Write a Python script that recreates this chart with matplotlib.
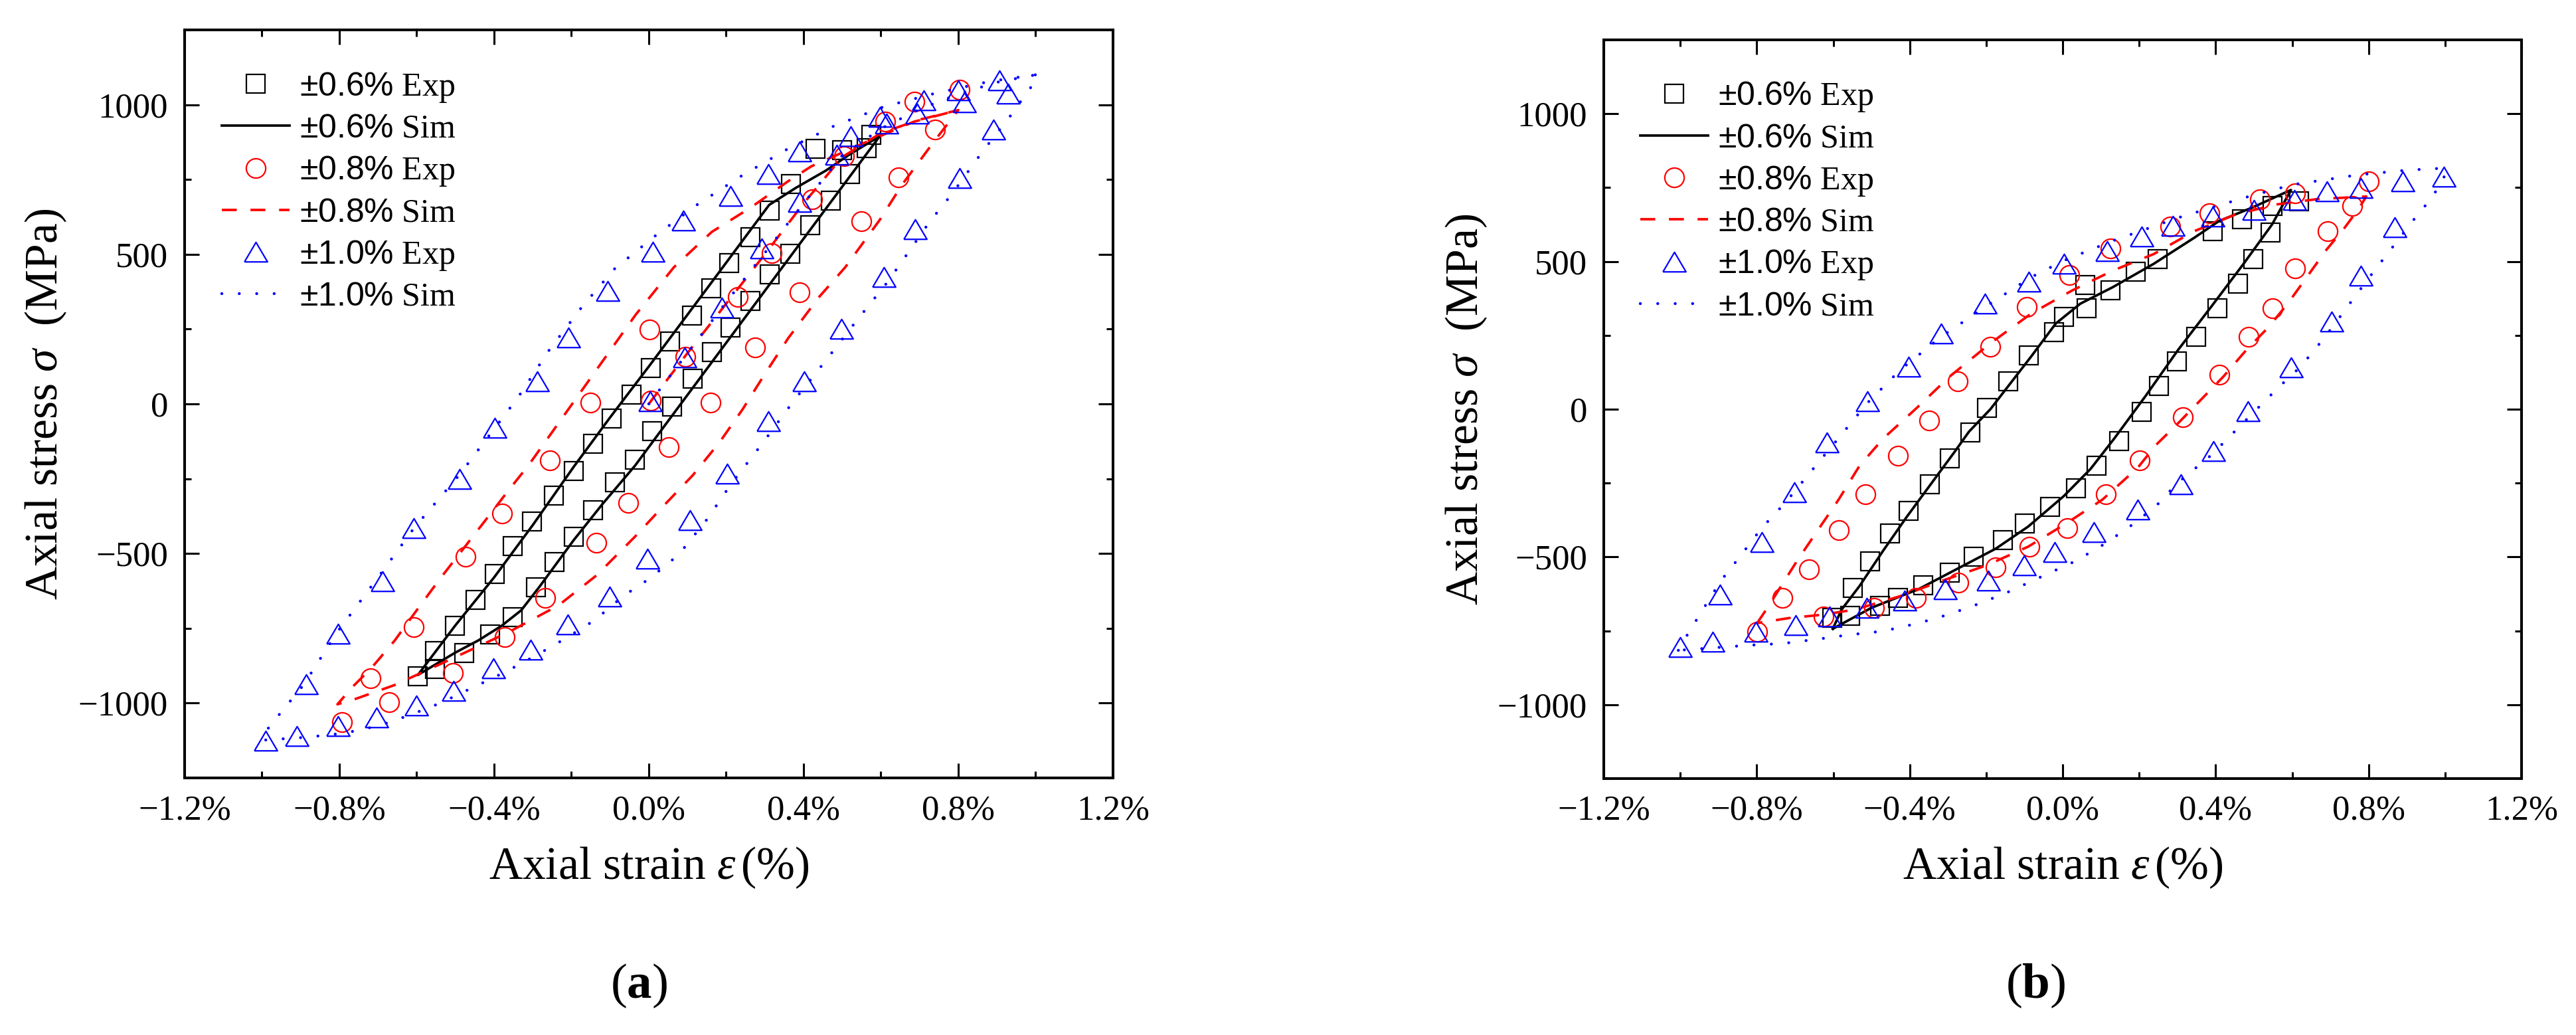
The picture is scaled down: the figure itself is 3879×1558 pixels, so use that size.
"""
Hysteresis loops: experiment vs simulation, strain amplitudes ±0.6 / ±0.8 / ±1.0 %
Two panels: (a) and (b)
"""

import matplotlib
matplotlib.use('Agg')
import matplotlib.pyplot as plt
from matplotlib.ticker import MultipleLocator

plt.rcParams['font.family'] = ['Liberation Serif', 'DejaVu Serif']
plt.rcParams['mathtext.fontset'] = 'custom'
plt.rcParams['mathtext.rm'] = 'Liberation Serif'
plt.rcParams['mathtext.it'] = 'Liberation Serif:italic'
plt.rcParams['mathtext.bf'] = 'Liberation Serif:bold'
plt.rcParams['mathtext.sf'] = 'Liberation Sans'
plt.rcParams['axes.unicode_minus'] = True

# ---------------- 数据 (a) ----------------
# ±0.6%
A06_EXP_X = [-0.597, -0.553, -0.502, -0.448, -0.398, -0.352, -0.302, -0.246, -0.194, -0.145, -0.096, -0.045,
             0.005, 0.055, 0.112, 0.161, 0.208, 0.262, 0.312, 0.368, 0.431, 0.500, 0.575,
             0.563, 0.520, 0.470, 0.417, 0.366, 0.312, 0.262, 0.211, 0.163, 0.114, 0.060, 0.009, -0.036,
             -0.088, -0.144, -0.194, -0.243, -0.292, -0.352, -0.410, -0.477, -0.553]
A06_EXP_Y = [-911, -827, -742, -655, -569, -476, -392, -306, -225, -134, -48, 31,
             120, 209, 296, 387, 471, 558, 645, 735, 852, 848, 900,
             854, 769, 680, 598, 502, 432, 344, 256, 174, 85, -9, -91, -186,
             -262, -355, -445, -529, -613, -713, -771, -833, -886]
A06_SIM_X = [0.597, 0.550, 0.450, 0.350, 0.250, 0.150, 0.050, -0.036, -0.120, -0.194, -0.282, -0.330, -0.381,
             -0.440, -0.500, -0.597,
             -0.500, -0.400, -0.300, -0.194, -0.100, 0.000, 0.150, 0.311, 0.380, 0.458, 0.518, 0.597]
A06_SIM_Y = [895, 813, 639, 465, 291, 117, -57, -207, -335, -455, -610, -690, -742,
             -790, -831, -906,
             -740, -580, -405, -210, -45, 125, 385, 665, 722, 780, 833, 895]

# ±0.8%
A08_EXP_X = [0.005, 0.094, 0.230, 0.318, 0.423, 0.504, 0.611, 0.686, 0.804,
             0.740, 0.645, 0.549, 0.390, 0.274, 0.159, 0.052, -0.053, -0.136, -0.267, -0.373, -0.507, -0.672,
             -0.793, -0.719, -0.608, -0.473, -0.380, -0.256, -0.151, 0.001]
A08_EXP_Y = [12, 157, 357, 505, 684, 828, 943, 1010, 1051,
             917, 756, 610, 372, 189, 5, -144, -330, -463, -648, -780, -899, -996,
             -1064, -916, -747, -511, -366, -189, 4, 249]
A08_SIM_X = [0.0, 0.100, 0.200, 0.300, 0.400, 0.500, 0.600, 0.700, 0.800,
             0.735, 0.656, 0.597, 0.508, 0.440, 0.360, 0.300, 0.242, 0.183, 0.114, 0.035, -0.036, -0.135,
             -0.233, -0.361, -0.460, -0.558, -0.658, -0.756, -0.805,
             -0.766, -0.716, -0.657, -0.607, -0.539, -0.480, -0.420, -0.361, -0.312, -0.220, -0.132, -0.034,
             0.065, 0.163, 0.262, 0.360, 0.420, 0.558, 0.685, 0.800]
A08_SIM_Y = [0, 170, 335, 500, 670, 825, 905, 950, 982,
             873, 735, 615, 457, 357, 219, 100, -19, -128, -238, -345, -444, -573,
             -673, -762, -822, -881, -940, -985, -1004,
             -946, -881, -791, -702, -583, -485, -385, -286, -207, -40, 120, 298,
             457, 575, 655, 744, 794, 873, 943, 982]

# ±1.0%
A10_EXP_X = [0.004, 0.092, 0.188, 0.292, 0.390, 0.614, 0.710, 0.815,
             0.928, 0.891, 0.804, 0.689, 0.608, 0.497, 0.401, 0.309, 0.203, 0.107, -0.004, -0.102, -0.209,
             -0.305, -0.401, -0.505, -0.601, -0.704, -0.804, -0.910, -0.991,
             -0.885, -0.804, -0.689, -0.608, -0.490, -0.399, -0.288, -0.207, -0.107, 0.011, 0.090, 0.211,
             0.309, 0.390, 0.486, 0.522, 0.597, 0.693, 0.800, 0.906]
A10_EXP_Y = [9, 156, 322, 520, 674, 938, 1015, 1009,
             1037, 916, 755, 584, 425, 251, 75, -57, -233, -388, -518, -643, -738,
             -822, -883, -960, -1007, -1048, -1077, -1110, -1126,
             -938, -769, -593, -416, -251, -81, 75, 222, 377, 509, 612, 696,
             769, 844, 833, 894, 960, 971, 1048, 1081]
A10_SIM_X = [0.0, 0.100, 0.200, 0.300, 0.400, 0.500, 0.600, 0.700, 0.800, 0.900, 1.000,
             0.996, 0.972, 0.947, 0.917, 0.863, 0.785, 0.725, 0.676, 0.617, 0.537, 0.484, 0.430, 0.375,
             0.296, 0.213, 0.151, 0.077, 0.003, -0.066, -0.139, -0.213, -0.292, -0.371, -0.460, -0.539,
             -0.618, -0.696, -0.785, -0.883, -1.000,
             -0.982, -0.893, -0.805, -0.696, -0.607, -0.489, -0.338, -0.257, -0.173, -0.089, 0.017, 0.124,
             0.242, 0.360, 0.479, 0.607, 0.740, 0.882, 1.000]
A10_SIM_Y = [0, 170, 340, 505, 670, 830, 920, 985, 1035, 1075, 1100,
             1072, 1032, 983, 933, 844, 704, 607, 516, 407, 278, 189, 100, 11,
             -128, -267, -385, -504, -583, -642, -722, -782, -841, -896, -951, -1000,
             -1040, -1075, -1100, -1114, -1124,
             -1080, -940, -762, -573, -415, -236, 22, 181, 324, 451, 562, 665,
             764, 853, 929, 993, 1038, 1078, 1100]

# ---------------- 数据 (b) ----------------
# ±0.6%
B06_EXP_X = [-0.603, -0.548, -0.503, -0.452, -0.403, -0.348, -0.295, -0.241, -0.198, -0.142, -0.089, -0.022,
             0.003, 0.063, 0.059, 0.125, 0.191, 0.249, 0.392, 0.469, 0.548, 0.618,
             0.544, 0.499, 0.458, 0.405, 0.349, 0.298, 0.251, 0.206, 0.148, 0.089, 0.035, -0.033, -0.099,
             -0.157, -0.232, -0.296, -0.364, -0.430, -0.478, -0.555]
B06_EXP_Y = [-705, -604, -514, -420, -343, -254, -166, -78, 4, 94, 181, 261,
             313, 342, 420, 402, 465, 509, 603, 644, 688, 704,
             599, 509, 425, 342, 246, 161, 78, -9, -107, -190, -268, -331, -387,
             -442, -498, -552, -595, -638, -666, -700]
B06_SIM_X = [-0.601, -0.578, -0.531, -0.469, -0.407, -0.345, -0.283, -0.245, -0.189, -0.082, -0.018, 0.046,
             0.131, 0.238, 0.345, 0.409, 0.495, 0.597,
             0.548, 0.473, 0.388, 0.302, 0.217, 0.135, 0.073, 0.003, -0.090, -0.175, -0.268, -0.377, -0.500,
             -0.601]
B06_SIM_Y = [-743, -678, -598, -478, -363, -254, -145, -76, 0, 179, 290, 357,
             413, 492, 581, 637, 682, 742,
             626, 492, 346, 201, 45, -99, -202, -294, -397, -472, -535, -609, -672,
             -743]

# ±0.8%
B08_EXP_X = [-0.799, -0.733, -0.663, -0.585, -0.515, -0.430, -0.349, -0.275, -0.189, -0.093, 0.018, 0.125,
             0.281, 0.383, 0.516, 0.608, 0.800,
             0.758, 0.693, 0.608, 0.548, 0.486, 0.409, 0.315, 0.201, 0.113, 0.012, -0.086, -0.175, -0.272,
             -0.384, -0.493, -0.625]
B08_EXP_Y = [-753, -638, -541, -409, -288, -157, -38, 94, 212, 346, 454, 545,
             619, 664, 711, 731, 771,
             688, 603, 476, 342, 246, 118, -27, -173, -288, -402, -465, -535, -587,
             -638, -672, -701]
B08_SIM_X = [-0.799, -0.772, -0.733, -0.694, -0.640, -0.586, -0.531, -0.469, -0.381, -0.296, -0.189, -0.082,
             0.025, 0.131, 0.238, 0.345, 0.452, 0.559, 0.665, 0.794,
             0.775, 0.735, 0.690, 0.640, 0.590, 0.540, 0.480, 0.420, 0.360, 0.300, 0.244, 0.197, 0.104,
             0.010, -0.090, -0.198, -0.314, -0.423, -0.543, -0.625, -0.717, -0.799]
B08_SIM_Y = [-724, -672, -592, -512, -409, -306, -191, -99, 5, 110, 223, 324,
             402, 469, 525, 603, 659, 693, 711, 720,
             680, 610, 540, 450, 360, 280, 200, 110, 30, -50, -121, -197, -306,
             -386, -465, -528, -580, -632, -678, -695, -707, -724]

# ±1.0%
B10_EXP_X = [-0.896, -0.787, -0.702, -0.616, -0.510, -0.403, -0.317, -0.204, -0.089, 0.003, 0.116, 0.206,
             0.288, 0.392, 0.501, 0.606, 0.691, 0.779, 0.890, 0.997,
             0.869, 0.779, 0.704, 0.597, 0.484, 0.394, 0.309, 0.197, 0.081, -0.020, -0.101, -0.194, -0.307,
             -0.413, -0.512, -0.609, -0.698, -0.803, -0.915, -1.000]
B10_EXP_Y = [-627, -449, -281, -113, 27, 145, 257, 358, 431, 492, 536, 585,
             621, 652, 675, 708, 737, 749, 771, 787,
             615, 451, 297, 141, -7, -141, -253, -340, -416, -483, -528, -580, -609,
             -647, -672, -701, -730, -753, -787, -804]
B10_SIM_X = [-1.005, -0.980, -0.937, -0.894, -0.840, -0.787, -0.723, -0.659, -0.595, -0.510, -0.424, -0.317,
             -0.189, -0.082, 0.003, 0.131, 0.302, 0.473, 0.601, 0.772, 0.900, 1.000,
             0.997, 0.965, 0.922, 0.869, 0.815, 0.751, 0.687, 0.623, 0.559, 0.473, 0.388, 0.300, 0.244,
             0.182, 0.112, 0.035, -0.051, -0.136, -0.214, -0.299, -0.377, -0.469, -0.562, -0.640, -0.733,
             -0.810, -0.888, -1.005]
B10_SIM_Y = [-816, -760, -670, -581, -492, -402, -313, -212, -112, 22, 134, 246,
             358, 447, 503, 570, 648, 715, 760, 793, 809, 816,
             782, 715, 648, 559, 469, 358, 246, 145, 67, -45, -156, -250, -328,
             -391, -454, -513, -564, -615, -656, -695, -724, -751, -764, -778, -793,
             -798, -805, -816]

# 刻度标签
X_TICKS = [-1.2, -0.8, -0.4, 0.0, 0.4, 0.8, 1.2]
X_TICK_LABELS = ['\u22121.2%', '\u22120.8%', '\u22120.4%', '0.0%', '0.4%', '0.8%', '1.2%']
Y_TICKS = [-1000, -500, 0, 500, 1000]
Y_TICK_LABELS = ['\u22121000', '\u2212500', '0', '500', '1000']
AMP_LABELS = ['0.6', '0.8', '1.0']

# 略扁的三角形标记 (宽 > 高)
TRI_MARKER = [(-1, -0.85), (1, -0.85), (0, 0.85), (-1, -0.85)]


def draw_panel(ax, exp_sets, sim_sets):
    """绘制一个子图"""
    colors = ['black', '#FF0000', '#0000FF']
    markers = ['s', 'o', TRI_MARKER]
    msizes = [19.5, 21, 25]
    styles = ['-', (0, (6, 5.5)), (0, (0.01, 5.9))]
    widths = [2.7, 2.7, 3.2]
    caps = ['butt', 'butt', 'round']

    for i in range(3):
        ex, ey = exp_sets[i]
        sx, sy = sim_sets[i]
        amp = '$\\mathsf{\u00b1' + AMP_LABELS[i] + '\\%}$'
        ax.plot(ex, ey, linestyle='none', marker=markers[i], markersize=msizes[i],
                markerfacecolor='none', markeredgecolor=colors[i], markeredgewidth=1.6,
                label=amp + ' Exp')
        ax.plot(sx, sy, linestyle=styles[i], color=colors[i], linewidth=widths[i],
                dash_capstyle=caps[i], label=amp + ' Sim')

    ax.set_xlim(-1.2, 1.2)
    ax.set_ylim(-1250, 1250)
    ax.set_xticks(X_TICKS)
    ax.set_xticklabels(X_TICK_LABELS)
    ax.set_yticks(Y_TICKS)
    ax.set_yticklabels(Y_TICK_LABELS)
    ax.xaxis.set_minor_locator(MultipleLocator(0.2))
    ax.yaxis.set_minor_locator(MultipleLocator(250))
    ax.tick_params(which='both', direction='in', top=True, right=True, labelsize=38, pad=18)
    ax.tick_params(which='major', length=16, width=2.2)
    ax.tick_params(which='minor', length=7, width=2.2)
    for sp in ax.spines.values():
        sp.set_linewidth(2.9)

    ax.set_xlabel(r'Axial strain $\varepsilon\,$(%)', fontsize=50)
    ax.set_ylabel(r'Axial stress $\sigma$  (MPa)', fontsize=50)
    ax.xaxis.set_label_coords(0.5, -0.09)
    ax.yaxis.set_label_coords(-0.125, 0.5)

    ax.legend(loc='upper left', bbox_to_anchor=(0.04, 0.946), frameon=False, fontsize=36,
              handlelength=2.04, handletextpad=0.3, labelspacing=0.29, borderpad=0,
              borderaxespad=0, numpoints=1)


fig = plt.figure(figsize=(38.8, 15.58), dpi=100)
ax_a = fig.add_axes([278 / 3880, (1558 - 1171) / 1558, 1398 / 3880, 1126 / 1558])
ax_b = fig.add_axes([2415 / 3880, (1558 - 1172) / 1558, 1382 / 3880, 1112 / 1558])

draw_panel(ax_a,
           [(A06_EXP_X, A06_EXP_Y), (A08_EXP_X, A08_EXP_Y), (A10_EXP_X, A10_EXP_Y)],
           [(A06_SIM_X, A06_SIM_Y), (A08_SIM_X, A08_SIM_Y), (A10_SIM_X, A10_SIM_Y)])
draw_panel(ax_b,
           [(B06_EXP_X, B06_EXP_Y), (B08_EXP_X, B08_EXP_Y), (B10_EXP_X, B10_EXP_Y)],
           [(B06_SIM_X, B06_SIM_Y), (B08_SIM_X, B08_SIM_Y), (B10_SIM_X, B10_SIM_Y)])

# 子图编号
fig.text(962 / 3880, 1 - 1484 / 1558, r'($\mathbf{a}$)', fontsize=54, ha='center', va='center')
fig.text(3065 / 3880, 1 - 1484 / 1558, r'($\mathbf{b}$)', fontsize=54, ha='center', va='center')

fig.savefig('out.png', dpi=100)
